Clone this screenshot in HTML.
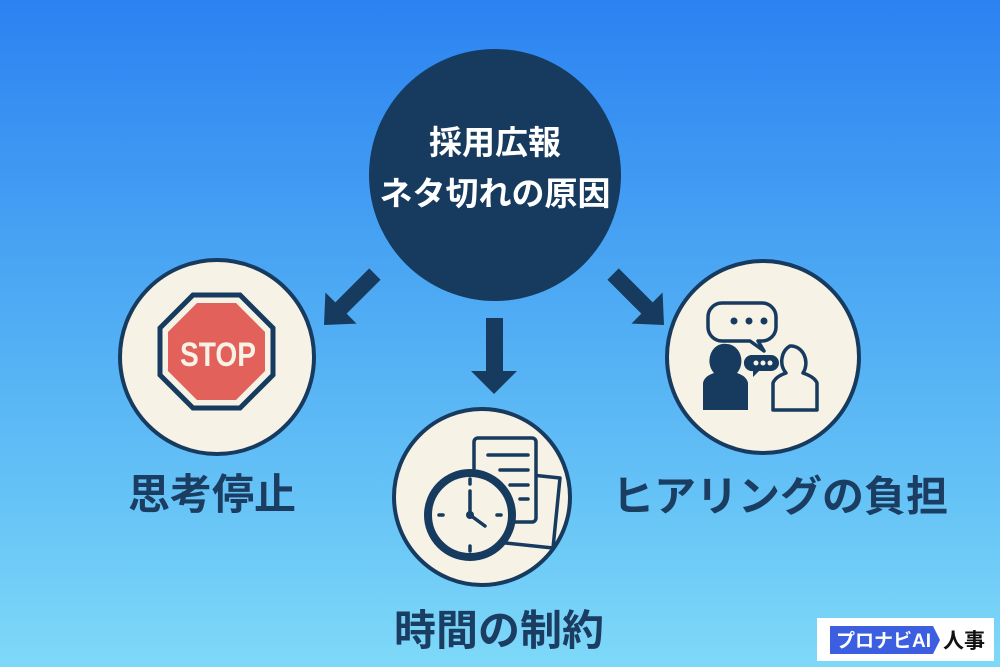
<!DOCTYPE html>
<html><head><meta charset="utf-8"><style>
html,body{margin:0;padding:0}
body{width:1000px;height:667px;overflow:hidden;position:relative;background:linear-gradient(180deg,#2b82f2 0%,#4aa6f3 40%,#66c3f6 75%,#7ed9f8 100%);font-family:"Liberation Sans","Noto Sans CJK JP",sans-serif}
.t{position:absolute;color:#1b3d62;font-weight:bold;font-size:42px;white-space:nowrap;line-height:50px}
</style></head><body>
<svg width="1000" height="667" style="position:absolute;left:0;top:0">
<circle cx="495" cy="175" r="126" fill="#173a5f"/>
<text x="495" y="154" text-anchor="middle" fill="#fff" font-size="33" font-weight="bold" font-family="Liberation Sans,Noto Sans CJK JP,sans-serif">採用広報</text>
<text x="495" y="205" text-anchor="middle" fill="#fff" font-size="33" font-weight="bold" font-family="Liberation Sans,Noto Sans CJK JP,sans-serif">ネタ切れの原因</text>
<g fill="#173a5f">
<polygon points="486,318 503,318 503,371 517,371 494,394 471,371 486,371"/>
<g transform="translate(324,325) rotate(-135)"><polygon points="0,0 -22,24 -8,24 -8,72 8,72 8,24 22,24"/></g>
<g transform="translate(664,325) rotate(135)"><polygon points="0,0 -22,24 -8,24 -8,72 8,72 8,24 22,24"/></g>
</g>
<circle cx="217" cy="357" r="97" fill="#f7f2e6" stroke="#173a5f" stroke-width="4"/>
<circle cx="482" cy="497" r="88" fill="#f7f2e6" stroke="#173a5f" stroke-width="4"/>
<circle cx="763" cy="357" r="96" fill="#f7f2e6" stroke="#173a5f" stroke-width="4"/>
<polygon points="193,295 240,295 273,328 273,375 240,408 193,408 160,375 160,328" fill="#f7f2e6" stroke="#173a5f" stroke-width="5"/>
<polygon points="197,303 236,303 265,332 265,371 236,400 197,400 168,371 168,332" fill="#e2615a"/>
<text x="180" y="366" textLength="76" lengthAdjust="spacingAndGlyphs" fill="#f7f2e6" font-size="34" font-weight="bold" font-family="Liberation Sans,sans-serif">STOP</text>
<g fill="#f7f2e6" stroke="#173a5f" stroke-width="3.5" stroke-linejoin="round">
<polygon points="485,470 560,478 553,548 478,540"/>
<rect x="474" y="438" width="62" height="84" rx="4"/>
</g>
<g stroke="#173a5f" stroke-width="3.5" stroke-linecap="round">
<line x1="488" y1="455" x2="528" y2="455"/><line x1="500" y1="470" x2="528" y2="470"/><line x1="510" y1="485" x2="528" y2="485"/><line x1="520" y1="499" x2="528" y2="499"/>
</g>
<circle cx="470" cy="515" r="42" fill="#f7f2e6" stroke="#173a5f" stroke-width="8"/>
<g stroke="#173a5f" stroke-width="3.5" stroke-linecap="round" fill="none">
<line x1="470" y1="479" x2="470" y2="484"/><line x1="470" y1="546" x2="470" y2="551"/><line x1="439" y1="515" x2="443" y2="515"/><line x1="497" y1="515" x2="501" y2="515"/>
<polyline points="470,491 470,515 485,526"/>
</g>
<circle cx="470" cy="515" r="4" fill="#173a5f"/>
<g stroke="#173a5f" stroke-width="3.5" fill="#f7f2e6" stroke-linejoin="round">
<path d="M722,303 h40 a14,14 0 0 1 14,14 v10 a14,14 0 0 1 -14,14 h-4 l6,10 l-14,-10 h-28 a14,14 0 0 1 -14,-14 v-10 a14,14 0 0 1 14,-14z"/>
<path d="M790,346 a15,17 0 0 1 13,27 c6,2 12,5 14,10 v27 h-44 v-27 c2,-5 7,-8 13,-10 a15,17 0 0 1 4,-27z"/>
</g>
<path d="M727,344 a15,17 0 0 1 10,29 c6,2 10,5 11,10 v27 h-45 v-27 c1,-5 5,-8 11,-10 a15,17 0 0 1 13,-29z" fill="#173a5f"/>
<path d="M751,355 h20 a8,8 0 0 1 0,16 h-12 l-6,6 v-6 a8,8 0 0 1 -2,-16z" fill="#173a5f"/>
<g fill="#173a5f"><circle cx="734" cy="321" r="3.5"/><circle cx="749" cy="321" r="3.5"/><circle cx="764" cy="321" r="3.5"/></g>
<g fill="#f7f2e6"><circle cx="756" cy="363" r="2.5"/><circle cx="763" cy="363" r="2.5"/><circle cx="770" cy="363" r="2.5"/></g>
<rect x="817" y="618" width="177" height="43" fill="#fff"/>
<polygon points="830,626 933,626 940,640 933,654 830,654" fill="#3b5fe0"/>
<text x="836" y="647" fill="#fff" font-size="19" font-weight="bold" font-family="Liberation Sans,Noto Sans CJK JP,sans-serif">プロナビAI</text>
<text x="943" y="648" fill="#111" font-size="21" font-weight="bold" font-family="Liberation Sans,Noto Sans CJK JP,sans-serif">人事</text>
</svg>
<div class="t" style="left:128px;top:470px">思考停止</div>
<div class="t" style="left:394px;top:606px">時間の制約</div>
<div class="t" style="left:612px;top:472px">ヒアリングの負担</div>
</body></html>
